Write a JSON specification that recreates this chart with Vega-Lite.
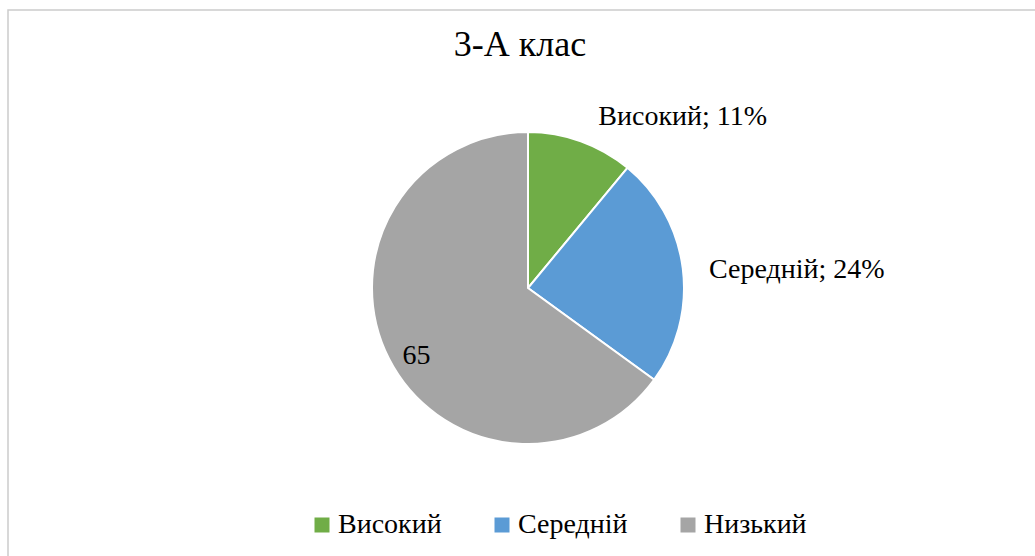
{
  "$schema": "https://vega.github.io/schema/vega-lite/v6.json",
  "width": 1040,
  "height": 556,
  "padding": {"left": 8, "top": 10, "right": 0, "bottom": 0},
  "autosize": {"type": "none"},
  "background": "white",
  "view": {"stroke": "#cccccc", "strokeWidth": 1.5, "fill": "white"},
  "config": {
    "view": {"stroke": "#cccccc", "strokeWidth": 1.5},
    "font": "Liberation Serif"
  },
  "title": {
    "text": "3-А клас",
    "fontSize": 36,
    "font": "Liberation Serif",
    "fontWeight": "normal",
    "color": "black",
    "anchor": "middle",
    "orient": "top",
    "offset": 0,
    "dx": -8,
    "dy": 82,
    "baseline": "alphabetic"
  },
  "data": {
    "values": [
      {"level": "Високий", "value": 11, "label": "Високий; 11%"},
      {"level": "Середній", "value": 24, "label": "Середній; 24%"},
      {"level": "Низький", "value": 65, "label": "65"}
    ]
  },
  "encoding": {
    "theta": {"field": "value", "type": "quantitative", "stack": true},
    "order": {"field": "value", "type": "quantitative", "sort": "ascending"}
  },
  "layer": [
    {
      "mark": {"type": "arc", "outerRadius": 156, "stroke": "white", "strokeWidth": 2},
      "encoding": {
        "color": {
          "field": "level",
          "type": "nominal",
          "scale": {"domain": ["Високий", "Середній", "Низький"], "range": ["#70AD47", "#5B9BD5", "#A5A5A5"]},
          "legend": {
            "title": null,
            "orient": "none",
            "legendX": 300,
            "legendY": 501,
            "direction": "horizontal",
            "symbolType": "square",
            "symbolSize": 225,
            "symbolStrokeWidth": 0,
            "symbolOpacity": 1,
            "labelFontSize": 28,
            "labelFont": "Liberation Serif",
            "labelColor": "black",
            "labelOffset": 2,
            "columnPadding": 46,
            "padding": 0
          }
        }
      }
    },
    {
      "mark": {"type": "text", "radius": 182, "dx": 93, "dy": 0, "fontSize": 28, "font": "Liberation Serif", "color": "black", "align": "center", "baseline": "middle"},
      "encoding": {
        "text": {"condition": {"test": "datum.level === 'Високий'", "field": "label"}, "value": ""}
      }
    },
    {
      "mark": {"type": "text", "radius": 271, "dx": 0, "dy": 16, "fontSize": 28, "font": "Liberation Serif", "color": "black", "align": "center", "baseline": "middle"},
      "encoding": {
        "text": {"condition": {"test": "datum.level === 'Середній'", "field": "label"}, "value": ""}
      }
    },
    {
      "mark": {"type": "text", "radius": 125, "dx": 0, "dy": 11, "fontSize": 28, "font": "Liberation Serif", "color": "black", "align": "center", "baseline": "middle"},
      "encoding": {
        "text": {"condition": {"test": "datum.level === 'Низький'", "field": "label"}, "value": ""}
      }
    }
  ]
}
